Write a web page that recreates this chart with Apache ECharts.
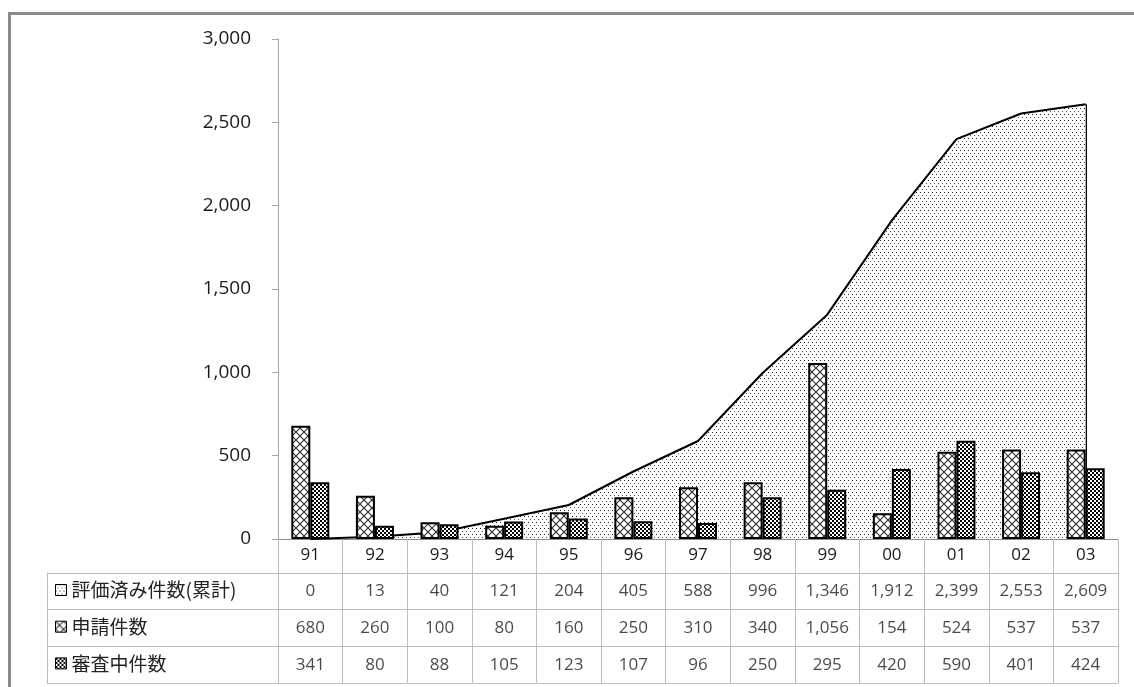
<!DOCTYPE html>
<html>
<head>
<meta charset="utf-8">
<script src="https://cdn.jsdelivr.net/npm/echarts@6/dist/echarts.min.js"></script>
<style>
  html, body { margin: 0; padding: 0; background: #fff; overflow: hidden; }
  #frame { position: absolute; left: 8px; top: 12px; width: 1300px; height: 900px; border: 3px solid #8a8a8a; }
  #main { position: absolute; left: 0; top: 0; width: 1134px; height: 687px; }
</style>
</head>
<body>
<div id="frame"></div>
<div id="main"></div>
<script>
var years = ['91', '92', '93', '94', '95', '96', '97', '98', '99', '00', '01', '02', '03'];
var cumulative = [0, 13, 40, 121, 204, 405, 588, 996, 1346, 1912, 2399, 2553, 2609];
var applications = [680, 260, 100, 80, 160, 250, 310, 340, 1056, 154, 524, 537, 537];
var underReview = [341, 80, 88, 105, 123, 107, 96, 250, 295, 420, 590, 401, 424];
var seriesNames = ['評価済み件数(累計)', '申請件数', '審査中件数'];

// fill patterns like the old excel ones
function pattern(w, h, draw) {
  var c = document.createElement('canvas');
  c.width = w; c.height = h;
  var ctx = c.getContext('2d');
  ctx.fillStyle = '#fff';
  ctx.fillRect(0, 0, w, h);
  draw(ctx);
  return { image: c, repeat: 'repeat' };
}
var dots = pattern(4, 6, function (ctx) {
  ctx.fillStyle = '#222';
  ctx.fillRect(0, 0, 1, 1);
  ctx.fillStyle = '#555';
  ctx.fillRect(2, 3, 1, 1);
});
var cross = pattern(8, 8, function (ctx) {
  ctx.strokeStyle = '#333';
  ctx.lineWidth = 1.2;
  ctx.beginPath();
  ctx.moveTo(0, 0); ctx.lineTo(8, 8);
  ctx.moveTo(8, 0); ctx.lineTo(0, 8);
  ctx.stroke();
});
var checker = pattern(4, 4, function (ctx) {
  ctx.fillStyle = '#000';
  ctx.fillRect(0, 0, 2, 2);
  ctx.fillRect(2, 2, 2, 2);
});
var fills = [dots, cross, checker];

function fmt(v) {
  return Number(v).toLocaleString('en-US');
}

var rows = [cumulative, applications, underReview];
var cells = [];
rows.forEach(function (arr, r) {
  arr.forEach(function (v, i) {
    cells.push([i, r, v]);
  });
});

var numFont = '"Open Sans", Lato, sans-serif';
var jpFont = '"Noto Sans CJK JP", sans-serif';
var cellColor = '#bdbdbd';
var last = years.length - 1;

// table grid lines are drawn as long inside ticks
function tableX(grid, data, len) {
  return {
    type: 'category',
    data: data,
    gridIndex: grid,
    axisLine: { show: true, lineStyle: { color: cellColor } },
    axisTick: { show: true, inside: true, interval: 0, length: len, lineStyle: { color: cellColor } },
    axisLabel: { show: false },
    splitLine: { show: false }
  };
}
function tableY(grid, len) {
  return {
    type: 'category',
    data: [0, 1, 2],
    inverse: true,
    gridIndex: grid,
    axisLine: { show: true, lineStyle: { color: cellColor } },
    axisTick: { show: true, inside: true, interval: 0, length: len, lineStyle: { color: cellColor } },
    axisLabel: { show: false },
    splitLine: { show: false }
  };
}

var chart = echarts.init(document.getElementById('main'));
var option = {
  backgroundColor: 'transparent',
  animation: false,
  legend: {
    orient: 'vertical',
    left: 50,
    top: 575,
    itemWidth: 11,
    itemHeight: 11,
    itemGap: 16.7,
    selectedMode: false,
    textStyle: { fontSize: 19, lineHeight: 20, color: '#222', fontFamily: jpFont },
    data: seriesNames.map(function (n, k) {
      return { name: n, icon: 'rect', itemStyle: { color: fills[k], borderColor: '#000', borderWidth: 1 } };
    })
  },
  grid: [
    { left: 278, right: 16, top: 39, bottom: 148 },
    { left: 278, right: 16, top: 573, bottom: 4 },
    { left: 47, width: 231, top: 573, bottom: 4 }
  ],
  xAxis: [
    {
      type: 'category',
      data: years,
      gridIndex: 0,
      axisLine: { lineStyle: { color: '#8c8c8c', width: 1 } },
      axisTick: { show: true, interval: 0, length: 34, lineStyle: { color: cellColor } },
      axisLabel: { margin: 8, fontSize: 17, color: '#1a1a1a', fontFamily: numFont }
    },
    tableX(1, years, 110),
    tableX(2, ['label'], 110)
  ],
  yAxis: [
    {
      type: 'value',
      gridIndex: 0,
      min: 0,
      max: 3000,
      interval: 500,
      axisLine: { show: true, lineStyle: { color: '#a6a6a6' } },
      axisTick: { show: true, length: 6, lineStyle: { color: '#a6a6a6' } },
      splitLine: { show: false },
      axisLabel: { margin: 27, fontSize: 19, color: '#1a1a1a', fontFamily: numFont, formatter: fmt }
    },
    tableY(1, 840),
    tableY(2, 231)
  ],
  series: [
    {
      name: seriesNames[0],
      type: 'line',
      data: cumulative,
      z: 1,
      symbol: 'none',
      lineStyle: { color: '#000', width: 2 },
      itemStyle: { color: '#000' },
      areaStyle: { color: dots, opacity: 1 },
      markLine: {
        silent: true,
        z: 1,
        symbol: ['none', 'none'],
        label: { show: false },
        lineStyle: { color: '#000', width: 2, type: 'solid' },
        data: [[{ coord: [years[last], 0] }, { coord: [years[last], cumulative[last]] }]]
      }
    },
    {
      name: seriesNames[1],
      type: 'bar',
      data: applications,
      z: 2,
      barWidth: 19,
      barGap: '0%',
      itemStyle: { color: cross, borderColor: '#000', borderWidth: 2 }
    },
    {
      name: seriesNames[2],
      type: 'bar',
      data: underReview,
      z: 2,
      barWidth: 19,
      barGap: '0%',
      itemStyle: { color: checker, borderColor: '#000', borderWidth: 2 }
    },
    {
      // data table values
      name: 'table',
      type: 'scatter',
      xAxisIndex: 1,
      yAxisIndex: 1,
      silent: true,
      symbolSize: 1,
      itemStyle: { color: 'transparent' },
      label: {
        show: true,
        position: 'inside',
        fontSize: 17,
        color: '#1a1a1a',
        fontFamily: numFont,
        formatter: function (p) { return fmt(p.value[2]); }
      },
      data: cells
    }
  ]
};

chart.setOption(option);
</script>
</body>
</html>
